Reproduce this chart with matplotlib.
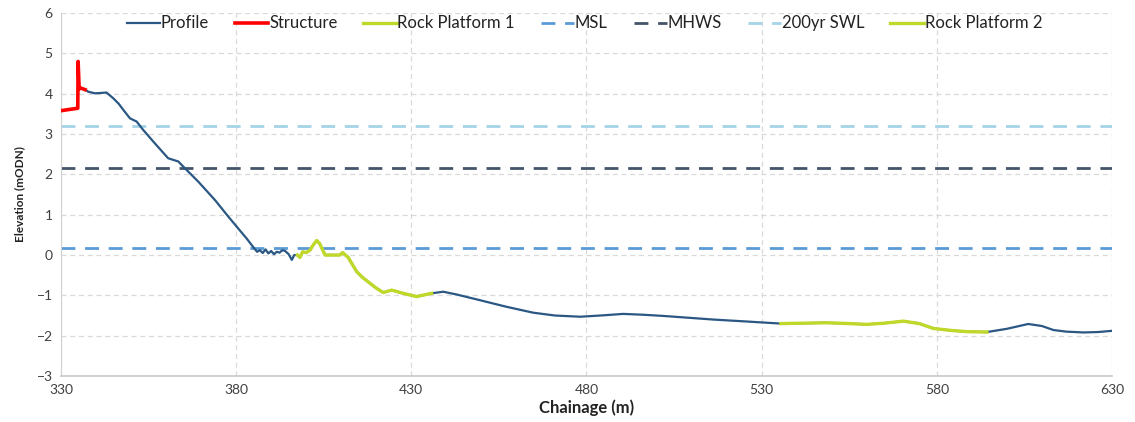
import matplotlib.pyplot as plt
import numpy as np

# ------------------------------------------------------------
# Beach profile data (chainage in m, elevation in mODN)
# ------------------------------------------------------------
structure_ch = [330.0, 334.8, 334.9, 335.2, 335.7, 336.9]
structure_z = [3.58, 3.64, 4.80, 4.12, 4.14, 4.10]

profile_ch = [336.9, 337.8, 339.7, 341.5, 343.0, 344.9, 346.5, 347.8, 349.7, 351.6,
              353.5, 356.8, 360.6, 363.5, 365.4, 369.2, 374.0, 377.8, 380.2, 383.0,
              385.4, 386.0, 386.8, 387.6, 388.4, 389.2, 390.0, 390.8, 391.6, 392.4,
              393.2, 394.0, 395.0, 395.9, 396.6, 397.5, 398.2, 399.0, 400.0, 401.1,
              402.0, 403.0, 403.8, 405.4, 407.5, 409.6, 410.4, 412.0, 414.4, 416.0,
              418.2, 420.0, 422.0, 424.4, 427.7, 431.5, 435.8, 439.1, 443.0, 449.6,
              457.0, 464.8, 471.0, 478.2, 484.0, 490.5, 496.0, 501.9, 516.2, 526.0,
              535.5, 542.0, 548.6, 555.0, 560.0, 565.0, 570.5, 575.0, 579.0, 584.0,
              588.6, 594.3, 600.0, 606.1, 610.0, 613.3, 617.0, 621.9, 626.0, 630.0]
profile_z = [4.10, 4.05, 4.01, 4.02, 4.03, 3.89, 3.75, 3.60, 3.39, 3.31,
             3.10, 2.77, 2.40, 2.32, 2.15, 1.82, 1.36, 0.95, 0.70, 0.41,
             0.14, 0.08, 0.12, 0.05, 0.14, 0.04, 0.10, 0.02, 0.08, 0.06,
             0.12, 0.10, 0.02, -0.12, 0.00, 0.00, -0.06, 0.08, 0.06, 0.12,
             0.25, 0.36, 0.29, 0.00, 0.00, 0.00, 0.06, -0.06, -0.41, -0.55,
             -0.70, -0.82, -0.93, -0.87, -0.95, -1.03, -0.95, -0.91, -0.98, -1.12,
             -1.28, -1.43, -1.50, -1.53, -1.50, -1.46, -1.48, -1.51, -1.60, -1.65,
             -1.70, -1.69, -1.68, -1.70, -1.72, -1.69, -1.64, -1.70, -1.82, -1.87,
             -1.90, -1.91, -1.83, -1.71, -1.76, -1.86, -1.90, -1.92, -1.91, -1.88]

# chainage extents of the rock platforms along the profile
rock1_range = (397.5, 435.8)
rock2_range = (535.5, 594.3)

# water levels
msl = 0.17
mhws = 2.17
swl_200yr = 3.21

# colours
c_profile = '#2A5783'
c_struct = '#FF0000'
c_rock = '#BFD82A'
c_msl = '#5B9BD5'
c_mhws = '#44546A'
c_swl = '#A5D4E6'

plt.rcParams['font.family'] = ['Lato', 'DejaVu Sans']

ch = np.array(profile_ch)
z = np.array(profile_z)

fig = plt.figure(figsize=(11.35, 4.22), dpi=100)
ax = fig.add_axes([0.0537, 0.109, 0.926, 0.860])

dash = (5, 3.5)
ax.axhline(msl, color=c_msl, lw=2.0, dashes=dash, label='MSL', zorder=2)
ax.axhline(mhws, color=c_mhws, lw=2.0, dashes=dash, label='MHWS', zorder=2)
ax.axhline(swl_200yr, color=c_swl, lw=2.0, dashes=dash, label='200yr SWL', zorder=2)

ax.plot(ch, z, color=c_profile, lw=1.6, label='Profile', zorder=3)
ax.plot(structure_ch, structure_z, color=c_struct, lw=2.6, label='Structure', zorder=4)

m1 = (ch >= rock1_range[0]) & (ch <= rock1_range[1])
m2 = (ch >= rock2_range[0]) & (ch <= rock2_range[1])
ax.plot(ch[m1], z[m1], color=c_rock, lw=2.4, label='Rock Platform 1', zorder=4)
ax.plot(ch[m2], z[m2], color=c_rock, lw=2.4, label='Rock Platform 2', zorder=4)

ax.set_xlim(330, 630)
ax.set_ylim(-3, 6)
ax.set_xticks(np.arange(330, 631, 50))
ax.set_yticks(np.arange(-3, 7, 1))
ax.grid(True, color='#D9D9D9', lw=0.9, dashes=(4, 3))
ax.set_axisbelow(True)

for s in ['top', 'right']:
    ax.spines[s].set_visible(False)
ax.spines['left'].set_color('#D0D0D0')
ax.spines['bottom'].set_color('#C8C8C8')
ax.spines['bottom'].set_linewidth(1.2)
ax.tick_params(axis='both', length=0, labelsize=10, colors='#404040', pad=6)

ax.set_xlabel('Chainage (m)', fontsize=12, fontweight='bold', color='#222222', labelpad=2)
ax.set_ylabel('Elevation (mODN)', fontsize=8.5, fontweight='bold', color='#222222', labelpad=8)

handles, labels = ax.get_legend_handles_labels()
order = ['Profile', 'Structure', 'Rock Platform 1', 'MSL', 'MHWS', '200yr SWL', 'Rock Platform 2']
hmap = dict(zip(labels, handles))
leg = ax.legend([hmap[k] for k in order], order, loc='upper center', ncol=7,
                bbox_to_anchor=(0.498, 1.035), frameon=False, fontsize=12,
                handlelength=2.0, handletextpad=0.05, columnspacing=1.55)
for t in leg.get_texts():
    t.set_color('#222222')

fig.savefig('out.png', dpi=100, facecolor='white')
